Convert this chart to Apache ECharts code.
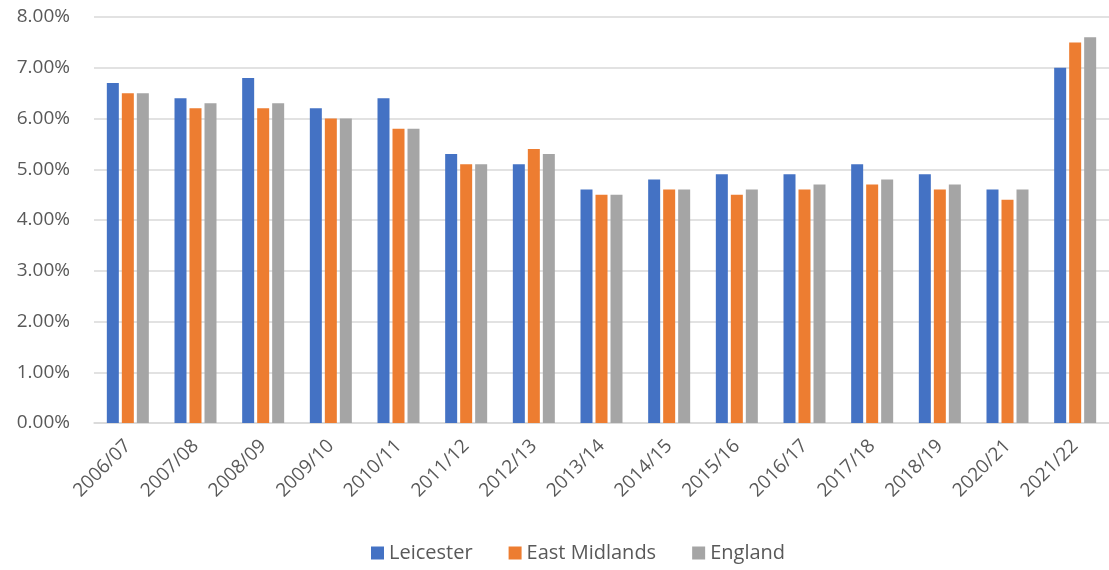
<!DOCTYPE html>
<html><head><meta charset="utf-8">
<script src="https://cdn.jsdelivr.net/npm/echarts@6/dist/echarts.min.js"></script>
<style>html,body{margin:0;padding:0;background:#fff}#c{width:1109px;height:570px}</style>
</head><body><div id="c"></div>
<script>
const categories = ["2006/07","2007/08","2008/09","2009/10","2010/11","2011/12","2012/13","2013/14","2014/15","2015/16","2016/17","2017/18","2018/19","2020/21","2021/22"];
const leicester = [6.7,6.4,6.8,6.2,6.4,5.3,5.1,4.6,4.8,4.9,4.9,5.1,4.9,4.6,7.0];
const eastMidlands = [6.5,6.2,6.2,6.0,5.8,5.1,5.4,4.5,4.6,4.5,4.6,4.7,4.6,4.4,7.5];
const england = [6.5,6.3,6.3,6.0,5.8,5.1,5.3,4.5,4.6,4.6,4.7,4.8,4.7,4.6,7.6];
const seriesNames = ["Leicester","East Midlands","England"];
const colors = ["#4472C4","#ED7D31","#A5A5A5"];
const font = "'Open Sans', 'Noto Sans', sans-serif";
const chart = echarts.init(document.getElementById('c'));
const mk = (name, data, i) => ({
  name, type: 'bar', data,
  barWidth: 12, barGap: '25%',
  itemStyle: { color: colors[i] }
});
chart.setOption({
  animation: false,
  color: colors,
  grid: { left: 94, right: 0, top: 17, bottom: 147, containLabel: false },
  legend: {
    bottom: 2, left: 366, itemWidth: 13, itemHeight: 13, itemGap: 36, icon: 'rect',
    textStyle: { fontFamily: font, fontSize: 20, color: '#595959' },
    data: seriesNames
  },
  xAxis: {
    type: 'category', data: categories,
    axisLine: { lineStyle: { color: '#d9d9d9', width: 1.5 } },
    axisTick: { show: false },
    axisLabel: { rotate: 45, interval: 0, margin: 20, fontFamily: font, fontSize: 19, color: '#595959' }
  },
  yAxis: {
    type: 'value', min: 0, max: 8, interval: 1,
    axisLine: { show: false }, axisTick: { show: false },
    splitLine: { lineStyle: { color: '#d9d9d9', width: 1.5 } },
    axisLabel: { margin: 24, fontFamily: font, fontSize: 19, color: '#595959', formatter: v => v.toFixed(2) + '%' }
  },
  series: [mk(seriesNames[0], leicester, 0), mk(seriesNames[1], eastMidlands, 1), mk(seriesNames[2], england, 2)]
});
</script></body></html>
